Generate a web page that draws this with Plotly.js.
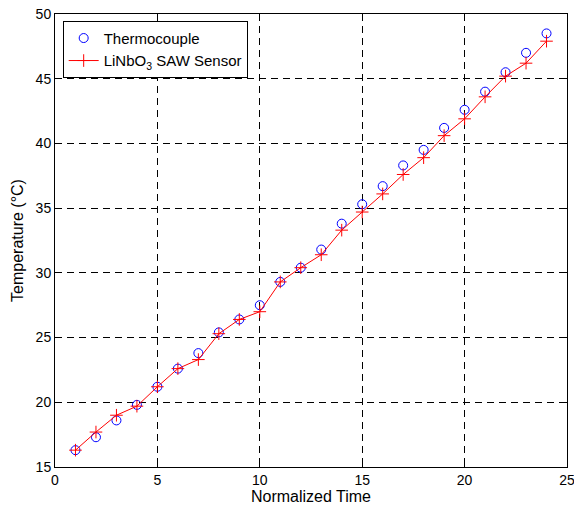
<!DOCTYPE html>
<html><head><meta charset="utf-8">
<script src="https://cdn.plot.ly/plotly-3.0.1.min.js"></script>
<style>body{margin:0;background:#fff}#chart{width:574px;height:510px}</style>
</head><body><div id="chart"></div>
<script>
const timeIdx = [1,2,3,4,5,6,7,8,9,10,11,12,13,14,15,16,17,18,19,20,21,22,23,24];
const thermocouple = [16.3,17.3,18.6,19.8,21.2,22.6,23.8,25.4,26.4,27.5,29.3,30.4,31.8,33.8,35.3,36.7,38.3,39.5,41.2,42.6,44.0,45.5,47.0,48.5];
const sawSensor = [16.3,17.7,19.0,19.7,21.2,22.6,23.3,25.3,26.4,27.0,29.3,30.4,31.4,33.3,34.7,36.1,37.6,38.9,40.6,41.9,43.6,45.2,46.2,47.9];
const xTicks = [0,5,10,15,20,25];
const yTicks = [15,20,25,30,35,40,45,50];

const font = {family: 'Liberation Sans, Arial, sans-serif', color: '#000'};
const axisCommon = {
  showline: true, linecolor: '#000', linewidth: 1, mirror: 'ticks',
  ticks: 'inside', ticklen: 5, tickcolor: '#000',
  showgrid: true, gridcolor: '#000', gridwidth: 1, griddash: '7px,5px',
  zeroline: false, tickfont: Object.assign({size: 14}, font),
  ticklabeloverflow: 'allow'
};
const data = [
  {x: timeIdx, y: thermocouple, name: 'Thermocouple', type: 'scatter', mode: 'markers',
   marker: {symbol: 'circle-open', size: 9, color: '#0000ff', line: {width: 1}}},
  {x: timeIdx, y: sawSensor, name: 'LiNbO<sub>3</sub> SAW Sensor', type: 'scatter', mode: 'lines+markers',
   line: {color: '#ff0000', width: 1},
   marker: {symbol: 'cross-thin-open', size: 9, color: '#ff0000', line: {width: 1, color: '#ff0000'}}}
];
const layout = {
  width: 574, height: 510,
  margin: {l: 55, r: 7, t: 14, b: 43},
  paper_bgcolor: '#fff', plot_bgcolor: '#fff',
  font: font,
  showlegend: true,
  legend: {x: 0.015, y: 0.985, xanchor: 'left', yanchor: 'top', bgcolor: '#fff',
    bordercolor: '#000', borderwidth: 1, font: Object.assign({size: 15}, font),
    tracegroupgap: 0, itemwidth: 30},
  xaxis: Object.assign({}, axisCommon, {range: [0, 25], tickvals: xTicks,
    title: {text: 'Normalized Time', font: Object.assign({size: 16}, font), standoff: 4}}),
  yaxis: Object.assign({}, axisCommon, {range: [15, 50], tickvals: yTicks,
    title: {text: 'Temperature (°C)', font: Object.assign({size: 16}, font), standoff: 8}})
};
Plotly.newPlot('chart', data, layout, {displayModeBar: false});
</script></body></html>
